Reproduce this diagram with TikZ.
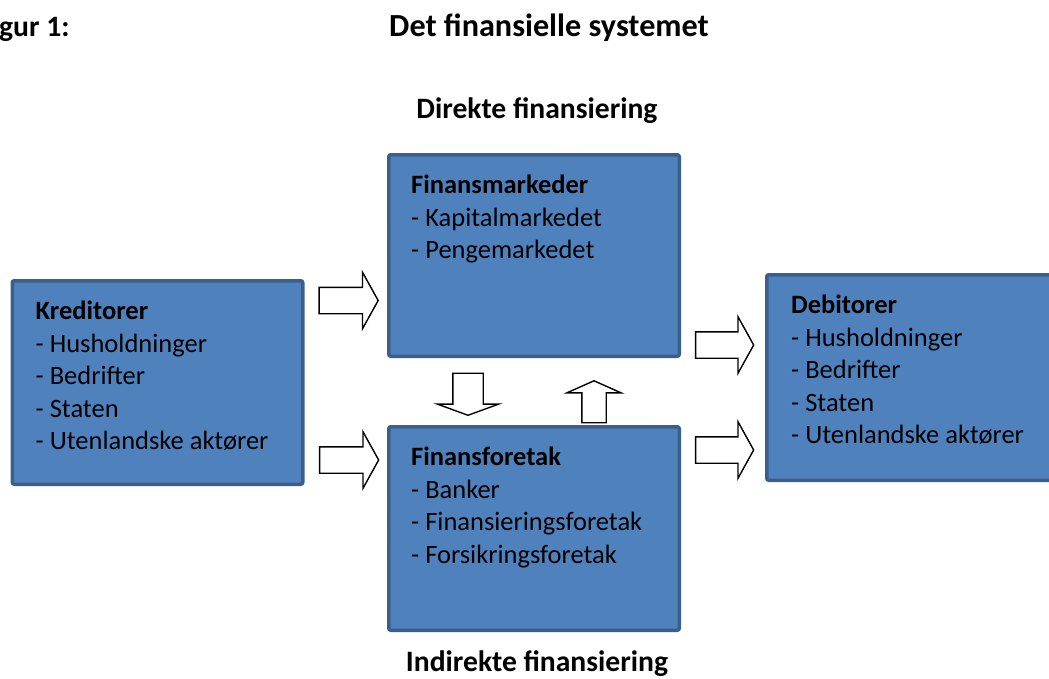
\documentclass[tikz,border=0pt]{standalone}
\usepackage{fontspec}
\setmainfont{Carlito}
\usetikzlibrary{shapes.arrows,positioning}
\definecolor{boxfill}{HTML}{4F81BD}
\definecolor{boxline}{HTML}{3A5F8C}
\begin{document}
\begin{tikzpicture}[
    x=1pt,y=-1pt,
    box/.style={draw=boxline, fill=boxfill, line width=3.5pt, rounded corners=2pt,
      minimum width=290.5pt, inner sep=0pt},
    boxtext/.style={anchor=north west, align=left, inner sep=0pt,
      font=\fontsize{26.5}{32.5}\selectfont},
    blockarrow/.style={single arrow, draw=black, fill=white, line width=1.4pt,
      inner xsep=0pt, inner ysep=12.5pt, single arrow head extend=15pt},
    heading/.style={font=\fontsize{29.6}{34}\selectfont\bfseries, inner sep=0pt, anchor=base}
    ]
    \useasboundingbox (0,0) rectangle (1049,678);
    \node[heading, anchor=base west] (fig) at (-1, 36) {gur 1:};
    \node[heading, font=\fontsize{32.2}{36}\selectfont\bfseries] (title) at (549, 36) {Det finansielle systemet};
    \node[heading] (direkte) at (537, 118) {Direkte finansiering};
    \node[heading] (indirekte) at (537, 671) {Indirekte finansiering};
    \node[box, minimum height=203.5pt] (kred) at (157.5, 382.5) {};
    \node[box, minimum height=201.5pt] (marked) at (534, 255.5) {};
    \node[box, minimum height=203.5pt] (foretak) at (534, 528.5) {};
    \node[box, minimum height=205.5pt] (debit) at (912, 377.5) {};
    \node[boxtext] (kredtxt) at ([shift={(25,22)}]kred.north west)
      {\textbf{Kreditorer}\\- Husholdninger\\- Bedrifter\\- Staten\\- Utenlandske aktører};
    \node[boxtext] (markedtxt) at ([shift={(24,22)}]marked.north west)
      {\textbf{Finansmarkeder}\\- Kapitalmarkedet\\- Pengemarkedet};
    \node[boxtext] (foretaktxt) at ([shift={(24,22)}]foretak.north west)
      {\textbf{Finansforetak}\\- Banker\\- Finansieringsforetak\\- Forsikringsforetak};
    \node[boxtext] (debittxt) at ([shift={(26,22)}]debit.north west)
      {\textbf{Debitorer}\\- Husholdninger\\- Bedrifter\\- Staten\\- Utenlandske aktører};
    \node[blockarrow, minimum height=59pt, single arrow tip angle=122] (a1) at (345, 300.5) {};
    \node[blockarrow, minimum height=59pt, single arrow tip angle=122] (a2) at (345.5, 460) {};
    \node[blockarrow, minimum height=58pt, single arrow tip angle=122] (a3) at (721, 345) {};
    \node[blockarrow, minimum height=58pt, single arrow tip angle=122] (a4) at (721, 450) {};
    \node[blockarrow, minimum height=42pt, inner xsep=14.5pt, inner ysep=0pt, single arrow head extend=15.5pt,
      single arrow tip angle=140, shape border rotate=270] (a5) at (468, 391.5) {};
    \node[blockarrow, minimum height=42pt, inner xsep=11.5pt, inner ysep=0pt, single arrow tip angle=132,
      shape border rotate=90] (a6) at (594, 404.5) {};
  \end{tikzpicture}
\end{document}
